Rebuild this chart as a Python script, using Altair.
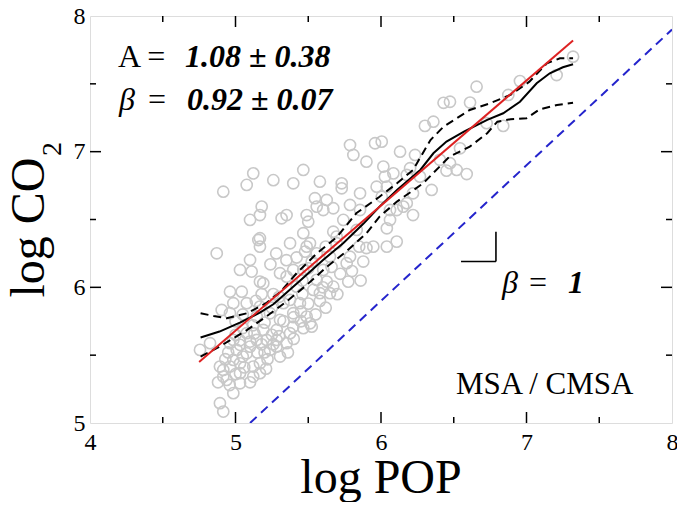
import altair as alt
import pandas as pd

# ---------------- data ----------------
pop = [7.32, 7.207, 6.955, 6.875, 6.657, 6.612, 6.43, 6.474, 6.36, 6.302, 6.726, 6.84,
       6.543, 6.474, 6.52, 6.589, 6.45, 6.405, 6.234, 6.131, 6.005, 5.959, 5.787, 5.81,
       5.90, 6.016, 6.085, 6.04, 6.20, 6.268, 6.348, 6.22, 6.177, 6.027, 6.005, 6.108,
       6.177, 6.22, 6.062, 6.04, 6.062, 6.153, 6.04, 6.108,
       5.466, 5.122, 5.077, 5.26, 5.397, 5.58, 5.73, 5.73, 4.916, 5.546, 5.627, 5.856,
       5.97, 5.558, 5.603, 5.672, 5.787, 5.856, 5.18, 5.168, 5.10, 5.317, 5.351, 5.489,
       5.50, 5.741, 5.833, 5.695, 5.466, 5.512, 5.478, 5.649, 5.787, 5.90, 5.878, 5.672,
       5.695, 5.764, 5.947, 5.157, 5.168, 4.871, 5.375, 5.10, 5.031, 5.111, 5.489, 5.558,
       5.775, 5.191, 4.962, 5.043, 5.306, 5.351, 5.397, 5.42, 5.535, 5.58, 5.627, 5.672,
       5.168, 5.558, 5.603, 5.466, 5.524, 5.649, 5.168,
       4.905, 4.962, 5.077, 5.168, 5.237, 5.306, 5.397, 5.489, 5.524, 5.329, 5.375, 5.443,
       4.756, 4.825, 4.985, 5.077, 5.146, 5.191, 5.283, 5.351, 5.237, 5.077, 5.031, 4.962,
       4.916, 5.168, 5.122, 5.031, 4.916, 4.893, 4.916, 4.985, 5.10, 5.008, 5.214, 4.985,
       5.146, 5.375, 5.466, 5.512, 5.397, 5.283, 5.031, 4.962, 5.306, 4.985, 4.893, 4.939,
       5.031, 5.122, 5.283, 5.168,
       5.00, 5.05, 5.12, 5.20, 5.25, 5.10, 5.15, 5.22, 5.05, 4.95, 5.18, 5.26, 5.13, 5.03,
       4.93, 5.06, 5.21, 5.00, 5.10, 4.96, 4.88, 5.20, 5.30, 5.33, 5.40, 5.45, 5.25, 5.30,
       5.46, 5.50, 5.58, 5.62, 5.70, 5.72, 5.66, 5.80, 5.85, 5.62, 5.42, 5.35, 5.28, 5.24,
       5.46, 5.50, 5.60, 5.86, 5.55, 5.45, 5.40, 5.36, 5.26, 5.18, 5.14, 5.05, 5.00]
co2 = [7.70, 7.565, 7.52, 7.418, 7.479, 7.362, 7.36, 7.368, 7.221, 7.19, 7.21, 7.19,
       7.025, 6.915, 6.865, 6.835, 6.86, 6.94, 6.976, 7.0, 7.074, 7.062, 7.049, 6.976,
       6.926, 6.89, 6.84, 6.742, 6.878, 6.816, 6.718, 6.693, 6.828, 6.816, 6.668, 6.57,
       6.62, 6.533, 6.497, 6.435, 6.57, 6.595, 6.30, 6.337,
       6.865, 6.84, 6.755, 6.79, 6.767, 6.779, 6.767, 6.73, 6.705, 6.657, 6.644, 6.693,
       6.742, 6.595, 6.57, 6.583, 6.607, 6.57, 6.595, 6.533, 6.497, 6.509, 6.533, 6.533,
       6.484, 6.497, 6.423, 6.325, 6.399, 6.325, 6.263, 6.226, 6.226, 6.29, 6.19, 6.41,
       6.374, 6.178, 6.30, 6.349, 6.30, 6.251, 6.325, 6.202, 6.128, 6.116, 6.30, 6.251,
       6.042, 6.03, 5.968, 5.968, 6.104, 6.079, 6.128, 6.005, 5.981, 5.957, 6.042, 6.005,
       6.042, 6.055, 6.128, 6.128, 6.19, 5.957, 6.362,
       5.833, 5.809, 5.883, 5.858, 5.809, 5.76, 5.71, 5.784, 5.71, 5.883, 5.907, 5.883,
       5.539, 5.588, 5.612, 5.662, 5.612, 5.686, 5.686, 5.588, 5.539, 5.514, 5.44, 5.416,
       5.391, 5.44, 5.342, 5.293, 5.342, 5.146, 5.084, 5.22, 5.563, 5.539, 5.612, 5.883,
       5.784, 5.662, 5.699, 5.735, 5.809, 5.612, 5.576, 5.588, 5.49, 5.465, 5.416, 5.318,
       5.367, 5.416, 5.563, 5.367,
       5.65, 5.70, 5.72, 5.74, 5.65, 5.60, 5.52, 5.47, 5.49, 5.52, 5.58, 5.58, 5.66, 5.61,
       5.47, 5.41, 5.40, 5.36, 5.30, 5.28, 5.30, 5.52, 5.64, 5.75, 5.78, 5.82, 5.85, 5.93,
       5.95, 5.88, 5.90, 5.85, 5.95, 6.10, 6.15, 6.12, 6.30, 6.30, 6.22, 6.20, 6.25, 6.17,
       6.05, 6.14, 6.00, 6.05, 5.80, 5.75, 5.62, 5.52, 5.95, 5.95, 5.90, 5.80, 5.75]

fit_x = [4.76, 4.89, 5.03, 5.17, 5.26, 5.35, 5.47, 5.60, 5.74, 5.88, 5.99, 6.11, 6.27,
         6.36, 6.45, 6.57, 6.73, 6.84, 6.955, 7.07, 7.16, 7.25, 7.32]
fit_y = [5.63, 5.674, 5.74, 5.815, 5.875, 5.96, 6.075, 6.20, 6.325, 6.47, 6.595, 6.718,
         6.865, 6.988, 7.074, 7.147, 7.234, 7.283, 7.368, 7.504, 7.578, 7.622, 7.644]

up_x = [4.76, 4.85, 4.94, 5.08, 5.21, 5.31, 5.42, 5.56, 5.70, 5.83, 5.99, 6.11, 6.22,
        6.34, 6.43, 6.61, 6.75, 6.89, 7.02, 7.14, 7.23, 7.32]
up_y = [5.809, 5.789, 5.772, 5.809, 5.883, 5.968, 6.104, 6.251, 6.374, 6.546, 6.668,
        6.767, 6.865, 7.086, 7.184, 7.307, 7.357, 7.418, 7.516, 7.651, 7.688, 7.688]

lo_x = [4.76, 4.89, 5.08, 5.21, 5.35, 5.49, 5.63, 5.76, 5.90, 5.99, 6.11, 6.29, 6.47,
        6.61, 6.73, 6.80, 6.89, 7.00, 7.09, 7.21, 7.32]
lo_y = [5.489, 5.563, 5.686, 5.784, 5.895, 6.018, 6.153, 6.263, 6.399, 6.521, 6.632,
        6.767, 6.963, 7.037, 7.136, 7.221, 7.239, 7.246, 7.312, 7.344, 7.361]

red_x = [4.75, 7.32]
red_y = [5.45, 7.82]

blue_x = [5.10, 8.0]
blue_y = [5.0, 7.9]

x_major = [4, 5, 6, 7, 8]
x_minor = [4.5, 5.5, 6.5, 7.5]
y_major = [5, 6, 7, 8]
y_minor = [5.5, 6.5, 7.5]

W, H = 582, 407
FONT = "Liberation Serif"

xs = alt.Scale(domain=[4, 8], nice=False, zero=False)
ys = alt.Scale(domain=[5, 8], nice=False, zero=False)
X_AX = alt.Axis(values=x_major, title=None, ticks=False, tickSize=0, domain=False, grid=False,
                labelFont=FONT, labelFontSize=24, labelColor="black", labelPadding=7,
                labelFlush=False, labelOverlap=False)
Y_AX = alt.Axis(values=y_major, title=None, ticks=False, tickSize=0, domain=False, grid=False,
                labelFont=FONT, labelFontSize=24, labelColor="black", labelPadding=5,
                labelFlush=False, labelOverlap=False)


def X(f):
    return alt.X(f, scale=xs, axis=X_AX)


def Y(f):
    return alt.Y(f, scale=ys, axis=Y_AX)


pts = pd.DataFrame({"pop": pop, "co2": co2})
scatter = alt.Chart(pts).mark_point(shape="circle", filled=False, size=125,
                                    stroke="#c8c8c8", strokeWidth=1.6, opacity=1).encode(
    x=X("pop:Q"), y=Y("co2:Q"))


def line(xv, yv, color, dash=None, width=2.0):
    df = pd.DataFrame({"a": xv, "b": yv})
    kw = dict(color=color, strokeWidth=width, clip=True)
    if dash:
        kw["strokeDash"] = dash
    return alt.Chart(df).mark_line(**kw).encode(x=X("a:Q"), y=Y("b:Q"))


blue = line(blue_x, blue_y, "#2424cc", dash=[9, 6], width=2)
upper = line(up_x, up_y, "black", dash=[8, 5], width=2)
lower = line(lo_x, lo_y, "black", dash=[8, 5], width=2)
fit = line(fit_x, fit_y, "black", width=2)
red = line(red_x, red_y, "#dd2222", width=2)

# slope-1 marker
hx = pd.DataFrame({"a": [6.55], "a2": [6.79], "b": [6.19]})
vx = pd.DataFrame({"a": [6.79], "b": [6.19], "b2": [6.41]})
marker_h = alt.Chart(hx).mark_rule(color="black", strokeWidth=1.6).encode(
    x=X("a:Q"), x2="a2:Q", y=Y("b:Q"))
marker_v = alt.Chart(vx).mark_rule(color="black", strokeWidth=1.6).encode(
    x=X("a:Q"), y=Y("b:Q"), y2="b2:Q")


# inward ticks on all four sides
def xticks(vals, L):
    df = pd.DataFrame({"v": vals})
    b = alt.Chart(df).mark_rule(color="black", strokeWidth=1.5).encode(
        x=X("v:Q"), y=alt.value(H), y2=alt.value(H - L))
    t = alt.Chart(df).mark_rule(color="black", strokeWidth=1.5).encode(
        x=X("v:Q"), y=alt.value(0), y2=alt.value(L))
    return [b, t]


def yticks(vals, L):
    df = pd.DataFrame({"v": vals})
    l = alt.Chart(df).mark_rule(color="black", strokeWidth=1.5).encode(
        y=Y("v:Q"), x=alt.value(0), x2=alt.value(L))
    r = alt.Chart(df).mark_rule(color="black", strokeWidth=1.5).encode(
        y=Y("v:Q"), x=alt.value(W), x2=alt.value(W - L))
    return [l, r]


ticks = xticks(x_major[1:-1], 11) + xticks(x_minor, 6) + yticks(y_major[1:-1], 11) + yticks(y_minor, 6)


def label(txt, px, py, size, style="normal", weight="normal", align="left", angle=0):
    df = pd.DataFrame({"t": [txt]})
    kw = dict(font=FONT, fontSize=size, fontStyle=style, fontWeight=weight,
              align=align, baseline="alphabetic", color="black")
    if angle:
        kw["angle"] = angle
    return alt.Chart(df).mark_text(**kw).encode(x=alt.value(px), y=alt.value(py), text="t:N")


texts = [
    label("A =", 28, 51, 32),
    label("1.08 ± 0.38", 95, 51, 32, style="italic", weight="bold"),
    label("β", 29, 94, 32, style="italic"),
    label("=", 58, 94, 32),
    label("0.92 ± 0.07", 97, 94, 32, style="italic", weight="bold"),
    label("β", 412, 277, 32, style="italic"),
    label("=", 439, 277, 32),
    label("1", 478, 277, 32, style="italic", weight="bold"),
    label("MSA / CMSA", 366, 378, 31),
    label("log POP", W / 2, 477, 48, align="center"),
    label("log CO", -46, 211.5, 48, align="center", angle=270),
    label("2", -29, 133, 28, align="center", angle=270),
]

chart = alt.layer(
    scatter, blue, upper, lower, fit, red, marker_h, marker_v, *ticks, *texts
).properties(
    width=W, height=H,
    autosize=alt.AutoSizeParams(type="none"),
    padding={"left": 82, "top": 8, "right": 5, "bottom": 79},
).configure_view(stroke="black", strokeWidth=2).configure(background="white")

chart.save("out.html", embed_options={"renderer": "svg", "actions": False})
